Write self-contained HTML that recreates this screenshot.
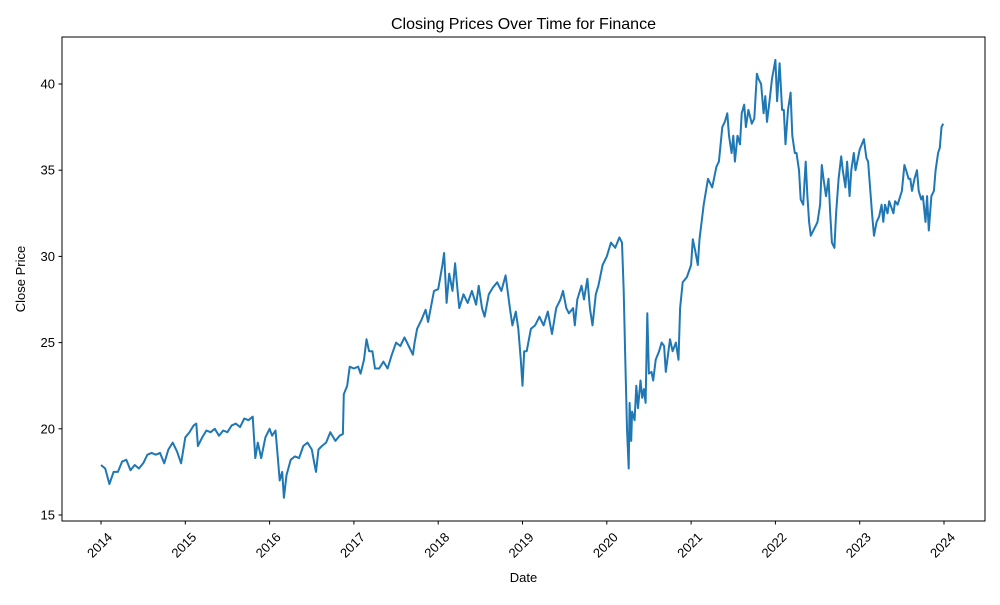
<!DOCTYPE html>
<html><head><meta charset="utf-8">
<style>
body{margin:0;background:#fff;}
svg text{font-family:"Liberation Sans","DejaVu Sans",sans-serif;fill:#000;}
</style></head>
<body>
<svg id="chart" width="1000" height="600" xmlns="http://www.w3.org/2000/svg">
<rect x="0" y="0" width="1000" height="600" fill="#fff"/>
<text x="523.5" y="29" font-size="16" text-anchor="middle">Closing Prices Over Time for Finance</text>
<g id="xaxis"></g>
<g id="yaxis"></g>
<path id="line" fill="none" stroke="#1f77b4" stroke-width="2" stroke-linejoin="round"/>
<rect x="62" y="37" width="923" height="484" fill="none" stroke="#000" stroke-width="1"/>
<text x="523.5" y="582" font-size="13" text-anchor="middle">Date</text>
<text x="0" y="0" font-size="13" text-anchor="middle" transform="translate(25,279) rotate(-90)">Close Price</text>
</svg>
<script>
const dates=[2014.0,2014.05,2014.1,2014.15,2014.2,2014.25,2014.3,2014.35,2014.4,2014.45,2014.5,2014.55,2014.6,2014.65,2014.7,2014.75,2014.8,2014.85,2014.9,2014.95,2015.0,
2015.05,2015.1,2015.13,2015.15,2015.2,2015.25,2015.3,2015.35,2015.4,2015.45,2015.5,2015.55,2015.6,2015.65,2015.7,2015.75,2015.8,2015.83,2015.86,2015.9,2015.95,2016.0,2016.03,2016.07,2016.1,
2016.12,2016.15,2016.17,2016.2,2016.25,2016.3,2016.35,2016.4,2016.45,2016.5,2016.53,2016.55,2016.58,2016.62,2016.67,2016.72,2016.78,2016.83,2016.87,2016.88,2016.92,2016.95,2017.0,
2017.05,2017.08,2017.12,2017.15,2017.18,2017.22,2017.25,2017.3,2017.35,2017.4,2017.45,2017.5,2017.55,2017.6,2017.65,2017.7,2017.72,2017.75,2017.8,2017.85,2017.88,2017.95,2018.0,2018.05,2018.07,
2018.1,2018.13,2018.17,2018.2,2018.23,2018.25,2018.3,2018.35,2018.4,2018.45,2018.48,2018.52,2018.55,2018.6,2018.65,2018.7,2018.75,2018.8,2018.85,2018.88,2018.92,2018.95,2018.98,2019.0,2019.02,
2019.05,2019.1,2019.15,2019.2,2019.25,2019.3,2019.35,2019.4,2019.45,2019.48,2019.52,2019.55,2019.6,2019.62,2019.65,2019.7,2019.73,2019.77,2019.8,2019.83,2019.87,2019.9,2019.95,2020.0,2020.05,2020.1,2020.15,2020.18,
2020.2,2020.22,2020.24,2020.26,2020.27,2020.29,2020.3,2020.33,2020.35,2020.37,2020.4,2020.42,2020.44,2020.46,2020.48,2020.5,2020.53,2020.55,2020.58,2020.62,2020.65,2020.68,2020.7,2020.75,2020.78,2020.82,2020.85,2020.87,2020.9,2020.95,2021.0,2021.02,2021.05,2021.08,2021.1,
2021.15,2021.2,2021.25,2021.3,2021.33,2021.37,2021.4,2021.43,2021.45,2021.48,2021.5,2021.52,2021.55,2021.58,2021.6,2021.63,2021.65,2021.68,2021.72,2021.75,2021.78,2021.8,2021.83,2021.86,2021.88,2021.9,2021.93,2021.96,2022.0,
2022.02,2022.05,2022.08,2022.1,2022.12,2022.15,2022.18,2022.2,2022.23,2022.25,2022.28,2022.3,2022.33,2022.36,2022.38,2022.4,2022.42,2022.45,2022.48,2022.5,2022.53,2022.55,2022.57,2022.6,2022.63,2022.65,2022.67,2022.7,2022.72,2022.75,2022.78,2022.8,2022.83,2022.85,2022.88,2022.9,2022.93,2022.95,2023.0,2023.05,2023.08,2023.1,2023.15,
2023.17,2023.2,2023.23,2023.26,2023.28,2023.3,2023.33,2023.35,2023.4,2023.42,2023.45,2023.5,2023.53,2023.55,2023.58,2023.6,2023.62,2023.65,2023.68,2023.7,2023.73,2023.75,2023.78,2023.8,2023.82,2023.85,2023.88,2023.9,2023.93,2023.95,2023.97,2023.99];
const prices=[17.9,17.7,16.8,17.5,17.5,18.1,18.2,17.6,17.9,17.7,18.0,18.5,18.6,18.5,18.6,18.0,18.8,19.2,18.7,18.0,19.5,
19.8,20.2,20.3,19.0,19.5,19.9,19.8,20.0,19.6,19.9,19.8,20.2,20.3,20.1,20.6,20.5,20.7,18.3,19.2,18.3,19.5,20.0,19.6,19.9,18.2,
17.0,17.5,16.0,17.3,18.2,18.4,18.3,19.0,19.2,18.8,18.0,17.5,18.8,19.0,19.2,19.8,19.3,19.6,19.7,22.0,22.5,23.6,23.5,
23.6,23.2,24.0,25.2,24.5,24.5,23.5,23.5,23.9,23.5,24.3,25.0,24.8,25.3,24.8,24.3,25.0,25.8,26.3,26.9,26.2,28.0,28.1,29.5,30.2,
27.3,29.0,28.0,29.6,28.0,27.0,27.8,27.3,28.0,27.2,28.3,27.0,26.5,27.8,28.2,28.5,28.0,28.9,27.0,26.0,26.8,25.8,24.0,22.5,24.5,
24.5,25.8,26.0,26.5,26.0,26.8,25.5,27.0,27.5,28.0,27.0,26.7,27.0,26.0,27.5,28.3,27.5,28.7,27.0,26.0,27.8,28.3,29.5,30.0,30.8,30.5,31.1,30.8,
28.0,24.0,20.0,17.7,21.5,19.3,21.0,20.5,22.5,21.2,22.8,21.8,22.3,21.5,26.7,23.2,23.3,22.8,24.0,24.5,25.0,24.8,23.3,25.2,24.5,25.0,24.0,27.0,28.5,28.8,29.5,31.0,30.3,29.5,31.0,
33.0,34.5,34.0,35.2,35.5,37.5,37.8,38.3,37.0,36.0,37.0,35.5,37.0,36.5,38.3,38.8,37.5,38.5,37.7,38.0,40.6,40.3,40.0,38.3,39.3,37.8,39.0,40.3,41.4,
39.0,41.2,38.5,38.5,36.5,38.5,39.5,37.0,36.0,36.0,35.0,33.3,33.0,35.5,33.5,32.0,31.2,31.5,31.8,32.0,33.0,35.3,34.5,33.5,34.5,32.5,30.8,30.5,32.5,34.5,35.8,35.0,34.0,35.5,33.5,35.0,36.0,35.0,36.2,36.8,35.7,35.5,32.3,
31.2,32.0,32.3,33.0,32.0,33.0,32.5,33.2,32.5,33.2,33.0,33.8,35.3,35.0,34.5,34.5,33.8,34.5,35.0,33.8,33.3,33.5,32.0,33.5,31.5,33.5,33.8,35.0,36.0,36.3,37.5,37.7];
const xTicks=[2014,2015,2016,2017,2018,2019,2020,2021,2022,2023,2024];
const yTicks=[15,20,25,30,35,40];

const NS="http://www.w3.org/2000/svg";
function xScale(t){return 101+(t-2014)*84.3;}
function yScale(v){return 515-(v-15)*17.24;}

const xa=document.getElementById('xaxis');
xTicks.forEach(t=>{
  const x=xScale(t);
  const l=document.createElementNS(NS,'line');
  l.setAttribute('x1',x);l.setAttribute('x2',x);l.setAttribute('y1',521);l.setAttribute('y2',524.5);
  l.setAttribute('stroke','#000');
  
  
  xa.appendChild(l);
  const tx=document.createElementNS(NS,'text');
  tx.setAttribute('font-size','13');tx.setAttribute('text-anchor','end');
  tx.setAttribute('transform','translate('+(x+12)+',538) rotate(-45)');
  tx.textContent=t;
  
  
  xa.appendChild(tx);
});
const ya=document.getElementById('yaxis');
yTicks.forEach(v=>{
  const y=yScale(v);
  const l=document.createElementNS(NS,'line');
  l.setAttribute('x1',58.5);l.setAttribute('x2',62);l.setAttribute('y1',y);l.setAttribute('y2',y);
  l.setAttribute('stroke','#000');
  
  
  ya.appendChild(l);
  const tx=document.createElementNS(NS,'text');
  tx.setAttribute('font-size','13');tx.setAttribute('text-anchor','end');
  tx.setAttribute('x',55);tx.setAttribute('y',y+4.5);
  tx.textContent=v;
  
  
  ya.appendChild(tx);
});
let d='';
dates.forEach((t,i)=>{d+=(i?'L':'M')+xScale(t).toFixed(1)+','+yScale(prices[i]).toFixed(1);});
document.getElementById('line').setAttribute('d',d);
</script>
</body></html>
